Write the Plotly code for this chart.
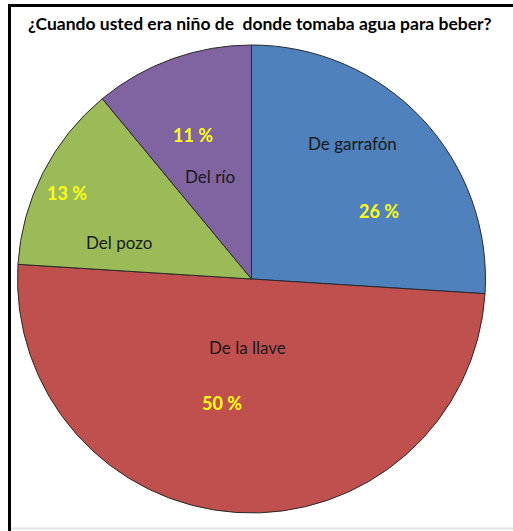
import plotly.graph_objects as go

# Survey answers: where people drank water from as children
categories = ["De garrafón", "De la llave", "Del pozo", "Del río"]
percentages = [26, 50, 13, 11]
colors = ["#4F81BD", "#C0504D", "#9BBB59", "#8064A2"]

W, H = 513, 531

# Pie placement in pixels (centre and radius)
cx, cy, r = 251.5, 279.0, 234.0

# Hand-placed label spots (pixel centres): name label, percent label
name_pos = {
    "De garrafón": (352, 144),
    "De la llave": (247, 347),
    "Del pozo": (119, 242),
    "Del río": (210, 177),
}
pct_pos = {
    "De garrafón": (379, 211),
    "De la llave": (222, 403),
    "Del pozo": (67, 193),
    "Del río": (193, 135),
}


def px(x):
    return x / W


def py(y):
    return 1 - y / H


fig = go.Figure(
    go.Pie(
        labels=categories,
        values=percentages,
        sort=False,
        direction="clockwise",
        rotation=0,
        marker=dict(colors=colors, line=dict(color="#2a2a2a", width=1)),
        textinfo="none",
        hoverinfo="label+percent",
        showlegend=False,
        domain=dict(x=[px(cx - r), px(cx + r)], y=[py(cy + r), py(cy - r)]),
    )
)

annotations = []
for cat, val in zip(categories, percentages):
    nx, ny = name_pos[cat]
    annotations.append(dict(
        x=px(nx), y=py(ny), xref="paper", yref="paper", text=cat,
        showarrow=False, xanchor="center", yanchor="middle",
        font=dict(family="Lato, Carlito, sans-serif", size=17, color="#1a1a1a"),
    ))
    tx, ty = pct_pos[cat]
    annotations.append(dict(
        x=px(tx), y=py(ty), xref="paper", yref="paper", text=f"<b>{val} %</b>",
        showarrow=False, xanchor="center", yanchor="middle",
        font=dict(family="Lato, Carlito, sans-serif", size=18, color="#FFFF10"),
    ))

annotations.append(dict(
    x=px(260), y=py(23), xref="paper", yref="paper",
    text="<b>¿Cuando usted era niño de&nbsp; donde tomaba agua para beber?</b>",
    showarrow=False, xanchor="center", yanchor="middle",
    font=dict(family="Lato, Carlito, sans-serif", size=17.5, color="#000000"),
))

# Frame around the chart area
shapes = [
    dict(type="line", xref="paper", yref="paper", x0=px(8), x1=1.0, y0=py(5.5), y1=py(5.5),
         line=dict(color="#000000", width=3)),
    dict(type="line", xref="paper", yref="paper", x0=px(9.5), x1=px(9.5), y0=py(4), y1=0.0,
         line=dict(color="#000000", width=3)),
    dict(type="line", xref="paper", yref="paper", x0=px(11), x1=1.0, y0=py(528.5), y1=py(528.5),
         line=dict(color="#e6e6e6", width=2)),
]

fig.update_layout(
    width=W, height=H,
    margin=dict(l=0, r=0, t=0, b=0),
    paper_bgcolor="#ffffff",
    plot_bgcolor="#ffffff",
    annotations=annotations,
    shapes=shapes,
)

fig.write_html("out.html")
